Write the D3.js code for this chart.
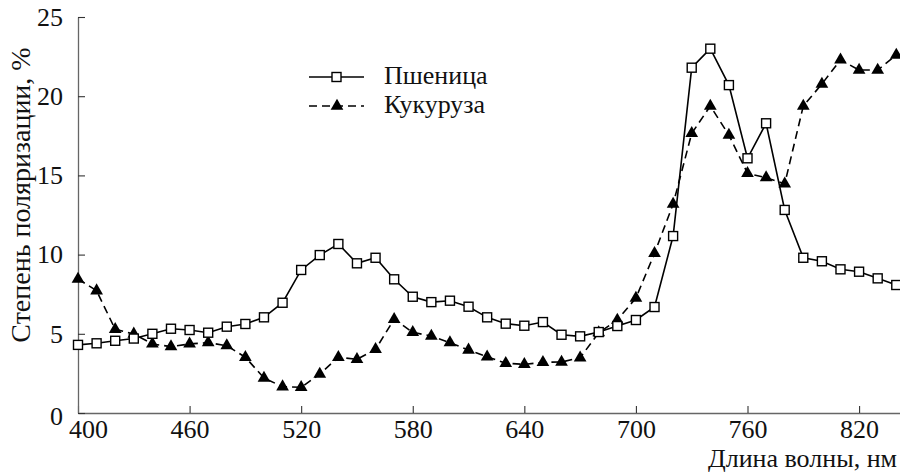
<!doctype html>
<html>
<head>
    <meta charset="utf-8">
    <script src="https://d3js.org/d3.v7.min.js"></script>
    <style>
        text { font-family: 'Liberation Serif', 'Tinos', 'Nimbus Roman', 'FreeSerif', serif; }
    </style>
</head>
<body style="margin:0">
    <svg id="chart" width="900" height="475" font-family="Liberation Serif"></svg>
    <script>
        // wavelengths, nm
        var wavelengths = [400, 410, 420, 430, 440, 450, 460, 470, 480, 490,
                           500, 510, 520, 530, 540, 550, 560, 570, 580, 590,
                           600, 610, 620, 630, 640, 650, 660, 670, 680, 690,
                           700, 710, 720, 730, 740, 750, 760, 770, 780, 790,
                           800, 810, 820, 830, 840];
        // Пшеница
        var wheat = [4.3, 4.4, 4.56, 4.7, 5.0, 5.32, 5.24, 5.07, 5.45, 5.62,
                     6.04, 6.96, 9.03, 9.97, 10.67, 9.45, 9.8, 8.44, 7.34, 7.0,
                     7.09, 6.71, 6.04, 5.64, 5.51, 5.74, 4.94, 4.84, 5.11, 5.49,
                     5.87, 6.69, 11.17, 21.8, 23.0, 20.7, 16.08, 18.29, 12.82, 9.8,
                     9.58, 9.07, 8.92, 8.5, 8.08];
        // Кукуруза
        var corn = [8.46, 7.72, 5.28, 4.99, 4.36, 4.19, 4.36, 4.44, 4.25, 3.52,
                    2.21, 1.66, 1.62, 2.46, 3.52, 3.39, 4.02, 5.92, 5.09, 4.86,
                    4.44, 3.98, 3.55, 3.14, 3.07, 3.2, 3.22, 3.49, 5.07, 5.87,
                    7.26, 10.08, 13.19, 17.65, 19.38, 17.55, 15.13, 14.86, 14.46, 19.38,
                    20.77, 22.29, 21.65, 21.65, 22.6];
        var xTicks = [400, 460, 520, 580, 640, 700, 760, 820];
        var yTicks = [0, 5, 10, 15, 20, 25];
        var seriesNames = ["Пшеница", "Кукуруза"];

        var svg = d3.select("#chart");

        var x = d3.scaleLinear().domain([400, 842]).range([78, 900]);
        var y = d3.scaleLinear().domain([0, 25]).range([413, 17]);

        var xAxis = svg.append("g")
            .attr("transform", "translate(0," + y(0) + ")")
            .call(d3.axisBottom(x).tickValues(xTicks).tickSizeInner(-7).tickSizeOuter(0).tickPadding(7));
        var yAxis = svg.append("g")
            .attr("transform", "translate(" + x(400) + ",0)")
            .call(d3.axisLeft(y).tickValues(yTicks).tickSizeInner(-7).tickSizeOuter(0).tickPadding(15));

        [xAxis, yAxis].forEach(function(a) {
            a.attr("font-family", "Liberation Serif").attr("font-size", 26);
            a.select(".domain").attr("stroke", "#666").attr("stroke-width", 1.3);
            a.selectAll(".tick line").attr("stroke", "#333").attr("stroke-width", 1.1);
            a.selectAll(".tick text").attr("fill", "#111");
        });
        // first label sits a little right of the axis corner
        xAxis.selectAll(".tick text").filter(function(d) { return d === 400; }).attr("dx", 10);
        yAxis.selectAll(".tick text").filter(function(d) { return d === 0; }).attr("dy", "0.45em");

        var pts = wavelengths.map(function(w, i) { return {w: w, wheat: wheat[i], corn: corn[i]}; });

        var line = function(key) {
            return d3.line().x(function(d) { return x(d.w); }).y(function(d) { return y(d[key]); });
        };

        svg.append("path").datum(pts)
            .attr("d", line("corn"))
            .attr("fill", "none").attr("stroke", "#000").attr("stroke-width", 1.6)
            .attr("stroke-dasharray", "8,5");
        svg.append("path").datum(pts)
            .attr("d", line("wheat"))
            .attr("fill", "none").attr("stroke", "#000").attr("stroke-width", 1.6);

        var tri = d3.symbol().type(d3.symbolTriangle).size(70);

        svg.append("g").selectAll("path")
            .data(pts).enter().append("path")
            .attr("d", tri)
            .attr("transform", function(d) { return "translate(" + x(d.w) + "," + y(d.corn) + ")"; })
            .attr("fill", "#000");

        svg.append("g").selectAll("rect")
            .data(pts).enter().append("rect")
            .attr("x", function(d) { return x(d.w) - 4.5; })
            .attr("y", function(d) { return y(d.wheat) - 4.5; })
            .attr("width", 9).attr("height", 9)
            .attr("fill", "#fff").attr("stroke", "#000").attr("stroke-width", 1.4);

        // legend
        var legend = svg.append("g");
        var ly = [77, 106];
        legend.append("line").attr("x1", 309).attr("x2", 364).attr("y1", ly[0]).attr("y2", ly[0])
            .attr("stroke", "#000").attr("stroke-width", 1.6);
        legend.append("rect").attr("x", 332).attr("y", ly[0] - 4.5).attr("width", 9).attr("height", 9)
            .attr("fill", "#fff").attr("stroke", "#000").attr("stroke-width", 1.4);
        legend.append("line").attr("x1", 309).attr("x2", 364).attr("y1", ly[1]).attr("y2", ly[1])
            .attr("stroke", "#000").attr("stroke-width", 1.6).attr("stroke-dasharray", "8,5");
        legend.append("path").attr("d", tri).attr("transform", "translate(337," + ly[1] + ")").attr("fill", "#000");
        legend.selectAll("text").data(seriesNames).enter().append("text")
            .attr("x", 384).attr("y", function(d, i) { return ly[i] + 7; })
            .attr("font-size", 26).attr("fill", "#111")
            .text(function(d) { return d; });

        // axis titles
        svg.append("text")
            .attr("x", 897).attr("y", 467)
            .attr("text-anchor", "end")
            .attr("font-size", 26).attr("fill", "#111")
            .text("Длина волны, нм");
        svg.append("text")
            .attr("transform", "translate(30,195) rotate(-90)")
            .attr("text-anchor", "middle")
            .attr("font-size", 28).attr("fill", "#111")
            .text("Степень поляризации, %");
    </script>
</body>
</html>
